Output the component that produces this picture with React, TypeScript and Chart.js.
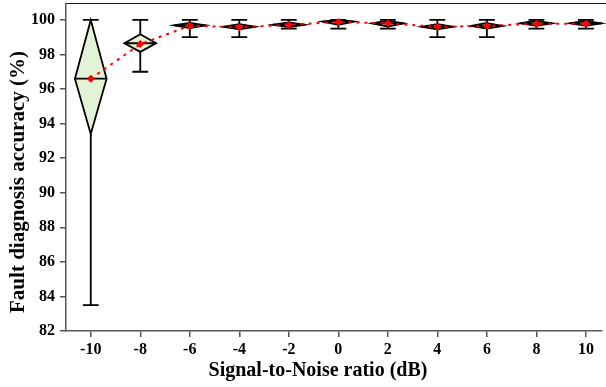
import { useEffect, useRef } from 'react';
import { Chart, registerables } from 'chart.js';

Chart.register(...registerables);

// ---- data ----
const snrLevels = [-10, -8, -6, -4, -2, 0, 2, 4, 6, 8, 10];
const whiskerLow = [83.5, 97.0, 99.0, 99.0, 99.5, 99.5, 99.5, 99.0, 99.0, 99.5, 99.5];
const q1Values = [93.4, 98.15, 99.52, 99.45, 99.58, 99.72, 99.62, 99.45, 99.5, 99.65, 99.65];
const medianValues = [96.6, 98.65, 99.68, 99.6, 99.72, 99.9, 99.8, 99.6, 99.65, 99.8, 99.8];
const q3Values = [100, 99.17, 99.82, 99.75, 99.86, 100, 99.95, 99.76, 99.82, 99.95, 99.95];
const whiskerHigh = [100, 100, 100, 100, 100, 100, 100, 100, 100, 100, 100];
const meanValues = [96.6, 98.6, 99.66, 99.58, 99.71, 99.88, 99.8, 99.6, 99.65, 99.78, 99.78];
const xTickValues = [-10, -8, -6, -4, -2, 0, 2, 4, 6, 8, 10];
const yTickValues = [82, 84, 86, 88, 90, 92, 94, 96, 98, 100];
const xAxisTitle = 'Signal-to-Noise ratio (dB)';
const yAxisTitle = 'Fault diagnosis accuracy (%)';

// style constants (data units on the x axis)
const DIAMOND_HALF = 0.64;
const CAP_HALF = 0.32;

const FONT = '"Liberation Serif", "Times New Roman", serif';

const diamondPlugin = {
  id: 'diamondBoxes',
  beforeDatasetsDraw(chart: any) {
    const { ctx, scales } = chart;
    const x = scales.x;
    const y = scales.y;
    ctx.save();
    ctx.strokeStyle = '#000';
    ctx.lineWidth = 1.8;
    snrLevels.forEach((c, i) => {
      const cx = x.getPixelForValue(c);
      const hw = x.getPixelForValue(c + DIAMOND_HALF) - cx;
      const cw = x.getPixelForValue(c + CAP_HALF) - cx;
      const yLo = y.getPixelForValue(whiskerLow[i]);
      const yHi = y.getPixelForValue(whiskerHigh[i]);
      const yQ1 = y.getPixelForValue(q1Values[i]);
      const yQ3 = y.getPixelForValue(q3Values[i]);
      const yMed = y.getPixelForValue(medianValues[i]);
      ctx.beginPath();
      ctx.moveTo(cx, yLo);
      ctx.lineTo(cx, yQ1);
      ctx.moveTo(cx, yQ3);
      ctx.lineTo(cx, yHi);
      ctx.moveTo(cx - cw, yLo);
      ctx.lineTo(cx + cw, yLo);
      ctx.moveTo(cx - cw, yHi);
      ctx.lineTo(cx + cw, yHi);
      ctx.stroke();
      ctx.beginPath();
      ctx.moveTo(cx, yQ3);
      ctx.lineTo(cx + hw, yMed);
      ctx.lineTo(cx, yQ1);
      ctx.lineTo(cx - hw, yMed);
      ctx.closePath();
      ctx.fillStyle = '#e2f3d6';
      ctx.fill();
      ctx.stroke();
      ctx.beginPath();
      ctx.moveTo(cx - hw, yMed);
      ctx.lineTo(cx + hw, yMed);
      ctx.stroke();
    });
    ctx.restore();
  },
  afterDraw(chart: any) {
    const { ctx, chartArea } = chart;
    ctx.save();
    ctx.strokeStyle = '#222';
    ctx.lineWidth = 1;
    ctx.beginPath();
    ctx.moveTo(chartArea.left, chartArea.top - 0.5);
    ctx.lineTo(chart.width, chartArea.top - 0.5);
    ctx.stroke();
    // axis titles
    ctx.fillStyle = '#000';
    ctx.textAlign = 'center';
    ctx.textBaseline = 'middle';
    ctx.font = `bold 20px ${FONT}`;
    ctx.fillText(xAxisTitle, 318, 371);
    ctx.font = `bold 21px ${FONT}`;
    ctx.translate(19, 182);
    ctx.rotate(-Math.PI / 2);
    ctx.fillText(yAxisTitle, 0, 0);
    ctx.restore();
  },
};

export default function App() {
  const ref = useRef<HTMLCanvasElement>(null);
  useEffect(() => {
    const canvas = ref.current!;
    const chart = new Chart(canvas, {
      type: 'line',
      data: {
        datasets: [
          {
            label: 'Mean',
            data: snrLevels.map((v, i) => ({ x: v, y: meanValues[i] })),
            borderColor: '#ff0000',
            borderWidth: 2,
            borderDash: [3, 5],
            pointStyle: 'rectRot',
            pointRadius: 4,
            pointBackgroundColor: '#ff0000',
            pointBorderColor: '#ff0000',
            pointBorderWidth: 0,
            tension: 0,
            fill: false,
          },
        ],
      },
      options: {
        responsive: false,
        animation: false,
        devicePixelRatio: 1,
        layout: { padding: { left: 0, right: 1, top: 3, bottom: 0 } },
        plugins: { legend: { display: false }, tooltip: { enabled: false } },
        scales: {
          x: {
            type: 'linear',
            min: -11,
            max: 10.65,
            afterBuildTicks: (s: any) => {
              s.ticks = xTickValues.map((v) => ({ value: v }));
            },
            afterFit: (s: any) => {
              s.height = 56;
              s.paddingLeft = 0;
              s.paddingRight = 0;
            },
            grid: { drawOnChartArea: false, drawTicks: true, tickLength: 6, color: '#555', lineWidth: 1.5 },
            border: { color: '#555', width: 1.5 },
            ticks: {
              color: '#000',
              padding: 3,
              font: { family: FONT, size: 16, weight: 'bold' },
              callback: (v: any) => String(v),
            },
            title: { display: false },
          },
          y: {
            type: 'linear',
            min: 82,
            max: 100.92,
            afterBuildTicks: (s: any) => {
              s.ticks = yTickValues.map((v) => ({ value: v }));
            },
            afterFit: (s: any) => {
              s.width = 66;
              s.paddingTop = 0;
              s.paddingBottom = 0;
            },
            grid: { drawOnChartArea: false, drawTicks: true, tickLength: 6, color: '#555', lineWidth: 1.5 },
            border: { color: '#555', width: 1.5 },
            ticks: {
              color: '#000',
              padding: 5,
              font: { family: FONT, size: 16, weight: 'bold' },
              callback: (v: any) => String(v),
            },
            title: { display: false },
          },
        },
      },
      plugins: [diamondPlugin],
    });
    return () => chart.destroy();
  }, []);
  return (
    <div style={{ position: 'absolute', left: 0, top: 0, width: 606, height: 387, background: '#fff' }}>
      <canvas ref={ref} width={606} height={387} style={{ display: 'block', width: 606, height: 387 }} />
    </div>
  );
}
